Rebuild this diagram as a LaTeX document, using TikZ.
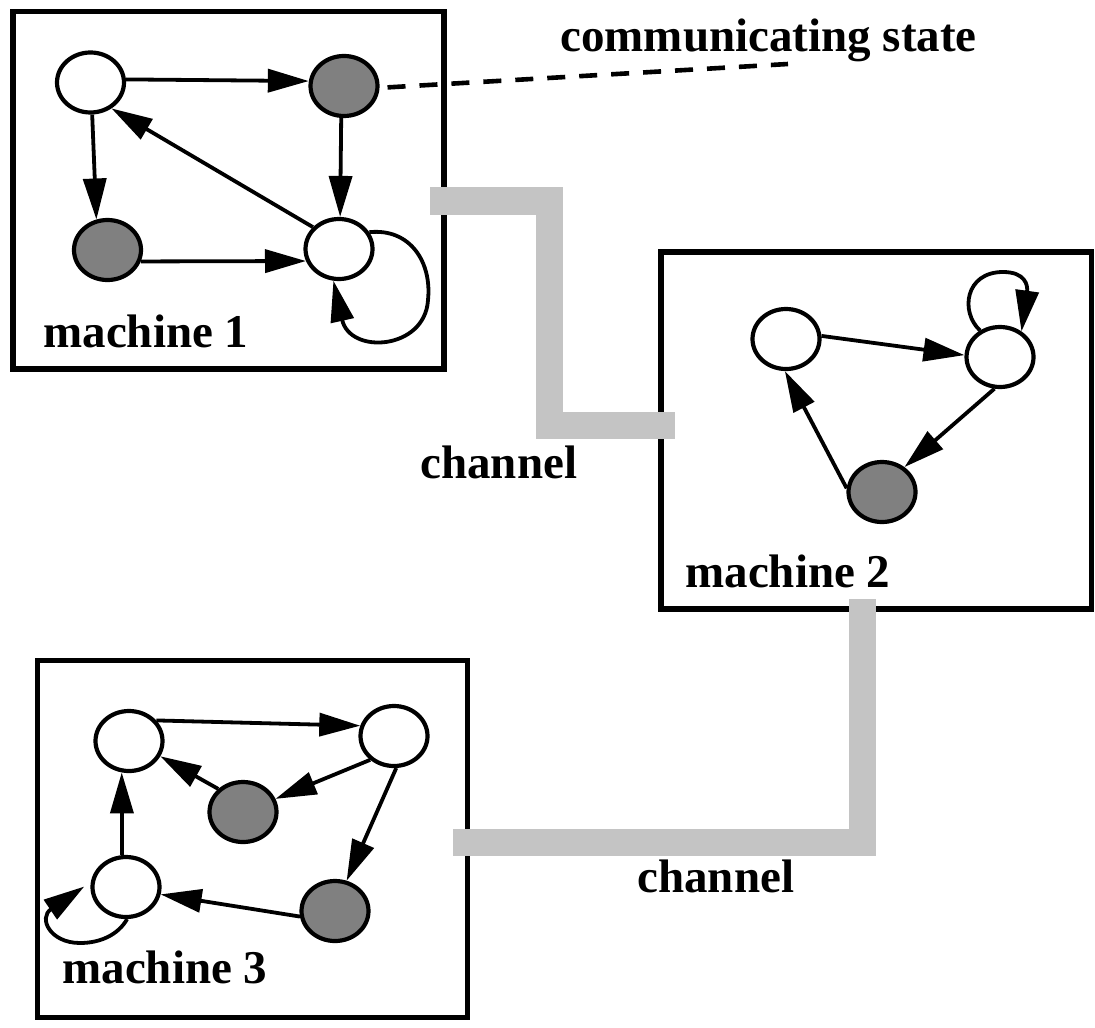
\documentclass[tikz,border=0pt]{standalone}
\usepackage{fontspec}
\setmainfont{Liberation Serif}
\usetikzlibrary{shapes.geometric,arrows.meta}
\definecolor{chgray}{RGB}{196,196,196}
\definecolor{stgray}{RGB}{128,128,128}
\tikzset{
  stw/.style={ellipse,draw=black,line width=2.1pt,fill=white,inner sep=0pt,minimum width=33.5pt,minimum height=30pt},
  stg/.style={stw,fill=stgray},
  arr/.style={line width=1.9pt,-{Triangle[length=20.5pt,width=11.5pt]}},
  machbox/.style={line width=2.6pt,draw=black},
  chan/.style={line width=13.5pt,draw=chgray,line cap=butt,line join=miter},
  lbl/.style={inner sep=0pt,anchor=base west,font=\fontsize{23.5pt}{28pt}\selectfont\bfseries},
  dashln/.style={line width=2.3pt,dash pattern=on 9pt off 7pt}
}
\begin{document}
\begin{tikzpicture}[x=0.5pt,y=-0.5pt]
\useasboundingbox (0,0) rectangle (1095,1027);
% machine boxes
\draw[machbox] (13,11.5) rectangle (444,369);
\draw[machbox] (661,252) rectangle (1091.5,609);
\draw[machbox] (37.5,660.5) rectangle (467.5,1017.5);
% channels
\coordinate (c1a) at (430,201);
\coordinate (c1b) at (549,201);
\coordinate (c1c) at (549,425);
\coordinate (c1d) at (675,425);
\draw[chan] (c1a) -- (c1b) -- (c1c) -- (c1d);
\coordinate (c2a) at (862,599);
\coordinate (c2b) at (862,842);
\coordinate (c2c) at (453,842);
\draw[chan] (c2a) -- (c2b) -- (c2c);
% machine 1
\node[stw] (A) at (90.5,82.5) {};
\node[stg] (B) at (344,86) {};
\node[stg] (C) at (107.5,250) {};
\node[stw] (D) at (339,249) {};
\draw[arr] (A.5) -- (B.172);
\draw[arr] (A.-87) -- (C.110);
\draw[arr] (B.-95) -- (D.88);
\draw[arr] (C.-19) -- (D.-160);
\draw[arr] (D.140) -- (A.-51);
\draw[arr] (D.29) .. controls (410,228) and (432,262) .. (428,300)
  .. controls (425,350) and (350,355) .. (D.-100);
\node[lbl] (m1) at (43,347) {machine 1};
% communicating state
\coordinate (cs) at (788,64);
\draw[dashln,shorten <=4pt] (B.-3) -- (cs);
\node[lbl] (cst) at (560,52) {communicating state};
% machine 2
\node[stw] (E) at (786,339) {};
\node[stw] (F) at (1000,357) {};
\node[stg] (G) at (882,492) {};
\draw[arr] (E.5) -- (F.177);
\draw[arr] (F.-100) -- (G.48);
\draw[arr] (G.174) -- (E.-92);
\draw[arr] (F.127) .. controls (960,312) and (965,272) .. (1003,272)
  .. controls (1025,272) and (1028,285) .. (F.50);
\node[lbl] (m2) at (685,587) {machine 2};
% machine 3
\node[stw] (H) at (129,741) {};
\node[stw] (I) at (394,736) {};
\node[stg] (J) at (243,812) {};
\node[stw] (K) at (126,887) {};
\node[stg] (L) at (335,911) {};
\draw[arr] (H.37) -- (I.163);
\draw[arr] (I.-135) -- (J.22);
\draw[arr] (J.137) -- (H.-26);
\draw[arr] (I.-86) -- (L.69);
\draw[arr] (L.-171) -- (K.-12);
\draw[arr] (K.97) -- (H.-103);
\draw[arr,shorten >=4pt] (K.-88) .. controls (118,935) and (100,943) .. (80,943)
  .. controls (50,943) and (38,918) .. (K.172);
\node[lbl] (m3) at (62,983) {machine 3};
% channel labels
\node[lbl] (ch1) at (420,478) {channel};
\node[lbl] (ch2) at (637,892) {channel};
\end{tikzpicture}
\end{document}
